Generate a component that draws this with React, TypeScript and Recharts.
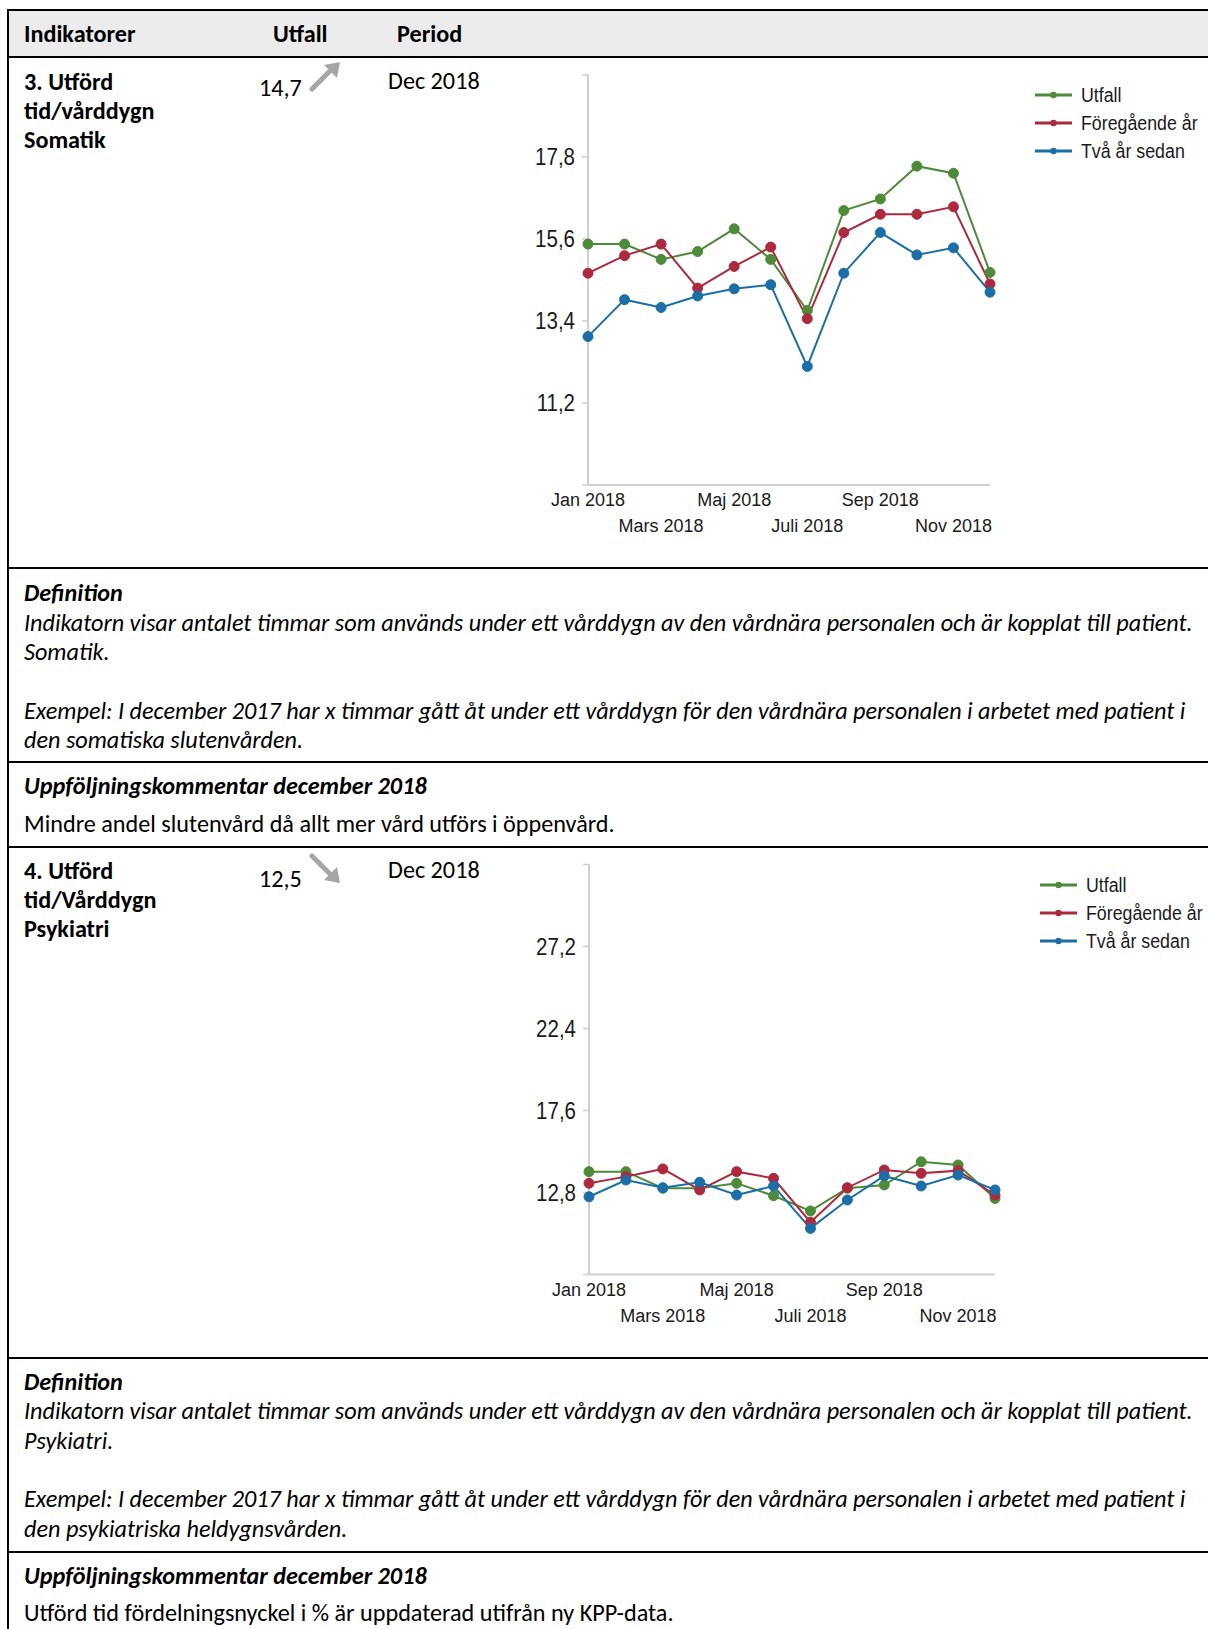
import React from 'react';
import { LineChart, Line, XAxis, YAxis, Legend } from 'recharts';

const months = [
  'Jan 2018', 'Feb 2018', 'Mars 2018', 'Apr 2018', 'Maj 2018', 'Juni 2018',
  'Juli 2018', 'Aug 2018', 'Sep 2018', 'Okt 2018', 'Nov 2018', 'Dec 2018',
];

// Somatik
const somUtfall = [15.46, 15.46, 15.05, 15.26, 15.87, 15.05, 13.68, 16.36, 16.67, 17.55, 17.36, 14.7];
const somForegaende = [14.68, 15.15, 15.46, 14.28, 14.86, 15.38, 13.46, 15.77, 16.26, 16.26, 16.46, 14.39];
const somTvaAr = [12.98, 13.97, 13.76, 14.07, 14.26, 14.37, 12.18, 14.68, 15.77, 15.17, 15.36, 14.17];
const somTicks = [9, 11.2, 13.4, 15.6, 17.8, 20];

// Psykiatri
const psyUtfall = [14.02, 14.02, 13.05, 13.05, 13.34, 12.61, 11.72, 13.05, 13.24, 14.6, 14.41, 12.45];
const psyForegaende = [13.34, 13.73, 14.18, 12.95, 14.02, 13.63, 11.06, 13.08, 14.12, 13.92, 14.08, 12.65];
const psyTvaAr = [12.55, 13.53, 13.08, 13.4, 12.65, 13.18, 10.7, 12.36, 13.77, 13.18, 13.82, 12.95];
const psyTicks = [8, 12.8, 17.6, 22.4, 27.2, 32];

const seriesNames = ['Utfall', 'Föregående år', 'Två år sedan'];
const seriesColors = ['#4d8a3a', '#ad2a3e', '#1b6ea6'];

const TEXT_FONT = "Carlito, 'Open Sans', sans-serif";
const CHART_FONT = "'Liberation Sans', Arial, sans-serif";

function MonthTick(props: any) {
  const { x, y, payload } = props;
  const idx = months.indexOf(payload.value);
  const secondRow = (idx / 2) % 2 === 1;
  return (
    <text
      x={x}
      y={y + (secondRow ? 47 : 21)}
      textAnchor="middle"
      fontFamily={CHART_FONT}
      fontSize={18}
      fill="#1a1a1a"
    >
      {payload.value}
    </text>
  );
}

// value labels look slightly stretched in the original, hence the scaleY
function makeValueTick(ticks: number[]) {
  return function ValueTick(props: any) {
    const { x, y, payload } = props;
    if (payload.value === ticks[0] || payload.value === ticks[ticks.length - 1]) return <g />;
    return (
      <text
        transform={`translate(${x},${y}) scale(1,1.15)`}
        x={0}
        y={0}
        dy="0.36em"
        textAnchor="end"
        fontFamily={CHART_FONT}
        fontSize={20.5}
        fill="#1a1a1a"
      >
        {Number(payload.value).toFixed(1).replace('.', ',')}
      </text>
    );
  };
}

function LegendBox() {
  return (
    <div>
      {seriesNames.map((name, i) => (
        <div key={name} style={{ display: 'flex', alignItems: 'center', height: 28, whiteSpace: 'nowrap' }}>
          <svg width={46} height={10}>
            <line x1={0} y1={5} x2={37} y2={5} stroke={seriesColors[i]} strokeWidth={3} />
            <circle cx={18.5} cy={5} r={3.2} fill={seriesColors[i]} />
          </svg>
          <span
            style={{
              display: 'inline-block',
              fontFamily: CHART_FONT,
              fontSize: 17.8,
              color: '#1a1a1a',
              transform: 'scaleY(1.18)',
            }}
          >
            {name}
          </span>
        </div>
      ))}
    </div>
  );
}

type ChartProps = {
  top: number;
  utfall: number[];
  foregaende: number[];
  tvaAr: number[];
  ticks: number[];
  marginTop: number;
  axisWidth: number;
  marginRight: number;
  marginBottom: number;
  legendLeft: number;
};

function IndicatorChart(p: ChartProps) {
  const data = months.map((m, i) => ({
    month: m,
    utfall: p.utfall[i],
    foregaende: p.foregaende[i],
    tvaAr: p.tvaAr[i],
  }));
  const keys = ['utfall', 'foregaende', 'tvaAr'];
  return (
    <div style={{ position: 'absolute', left: 520, top: p.top }}>
      <LineChart
        width={688}
        height={480}
        data={data}
        margin={{ top: p.marginTop, right: p.marginRight, left: 0, bottom: p.marginBottom }}
      >
        <XAxis
          dataKey="month"
          interval={1}
          height={50}
          tickLine={false}
          tickSize={0}
          tickMargin={0}
          axisLine={{ stroke: '#cfcfcf', strokeWidth: 2 }}
          tick={<MonthTick />}
        />
        <YAxis
          type="number"
          domain={[p.ticks[0], p.ticks[p.ticks.length - 1]]}
          ticks={p.ticks}
          interval={0}
          width={p.axisWidth}
          tickSize={6}
          tickMargin={7}
          axisLine={{ stroke: '#cfcfcf', strokeWidth: 2 }}
          tickLine={{ stroke: '#cfcfcf', strokeWidth: 1.5 }}
          tick={makeValueTick(p.ticks)}
        />
        <Legend
          layout="vertical"
          align="center"
          verticalAlign="middle"
          content={() => <LegendBox />}
          wrapperStyle={{ position: 'absolute', left: p.legendLeft, top: 21, width: 200 }}
        />
        {keys.map((k, i) => (
          <Line
            key={k}
            dataKey={k}
            name={seriesNames[i]}
            type="linear"
            stroke={seriesColors[i]}
            strokeWidth={2}
            dot={{ r: 5, fill: seriesColors[i], stroke: seriesColors[i], strokeWidth: 1 }}
            isAnimationActive={false}
          />
        ))}
      </LineChart>
    </div>
  );
}

function Arrow({ left, top, down }: { left: number; top: number; down?: boolean }) {
  return (
    <svg
      width={32}
      height={30}
      style={{ position: 'absolute', left, top, transform: down ? 'scaleY(-1)' : undefined }}
    >
      <line x1={3} y1={27} x2={22} y2={8} stroke="#a5a5a5" strokeWidth={5} strokeLinecap="round" />
      <polygon points="31,0 15,3 28,16" fill="#a5a5a5" />
    </svg>
  );
}

function HLine({ y }: { y: number }) {
  return <div style={{ position: 'absolute', left: 7, top: y - 1, width: 1201, height: 2, background: '#000' }} />;
}

function TextLines({
  x, y, lines, bold, italic, lh = 29.4,
}: { x: number; y: number; lines: string[]; bold?: boolean; italic?: boolean; lh?: number }) {
  return (
    <div
      style={{
        position: 'absolute',
        left: x,
        top: y - lh / 2,
        lineHeight: `${lh}px`,
        fontFamily: TEXT_FONT,
        fontSize: 24.2,
        fontWeight: bold ? 700 : 400,
        fontStyle: italic ? 'italic' : 'normal',
        whiteSpace: 'nowrap',
        color: '#000',
      }}
    >
      {lines.map((l, i) => (
        <div key={i} style={{ height: lh }}>{l}</div>
      ))}
    </div>
  );
}

export default function App() {
  return (
    <div style={{ position: 'absolute', left: 0, top: 0, width: 1208, height: 1629, overflow: 'hidden', background: '#fff' }}>
      <div style={{ position: 'absolute', left: 8, top: 10, width: 1200, height: 47, background: '#ececec' }} />
      <div style={{ position: 'absolute', left: 7, top: 9, width: 2, height: 1620, background: '#000' }} />
      {[10, 57, 568, 762, 846.5, 1357.6, 1552].map((y) => <HLine key={y} y={y} />)}

      <TextLines x={24} y={34} lines={['Indikatorer']} bold />
      <TextLines x={273} y={34} lines={['Utfall']} bold />
      <TextLines x={397} y={34} lines={['Period']} bold />

      <TextLines x={24} y={81} lines={['3. Utförd', 'tid/vårddygn', 'Somatik']} bold lh={29} />
      <TextLines x={259} y={88} lines={['14,7']} />
      <Arrow left={309} top={62} />
      <TextLines x={388} y={81} lines={['Dec 2018']} />

      <IndicatorChart
        top={60}
        utfall={somUtfall}
        foregaende={somForegaende}
        tvaAr={somTvaAr}
        ticks={somTicks}
        marginTop={14.8}
        axisWidth={68}
        marginRight={218}
        marginBottom={5}
        legendLeft={515}
      />

      <TextLines x={24} y={593} lines={['Definition']} bold italic />
      <TextLines
        x={24}
        y={622.4}
        italic
        lines={[
          'Indikatorn visar antalet timmar som används under ett vårddygn av den vårdnära personalen och är kopplat till patient.',
          'Somatik.',
          '',
          'Exempel: I december 2017 har x timmar gått åt under ett vårddygn för den vårdnära personalen i arbetet med patient i',
          'den somatiska slutenvården.',
        ]}
      />
      <TextLines x={24} y={786} lines={['Uppföljningskommentar december 2018']} bold italic />
      <TextLines x={24} y={824} lines={['Mindre andel slutenvård då allt mer vård utförs i öppenvård.']} />

      <TextLines x={24} y={870} lines={['4. Utförd', 'tid/Vårddygn', 'Psykiatri']} bold lh={29} />
      <TextLines x={259} y={879} lines={['12,5']} />
      <Arrow left={309} top={853} down />
      <TextLines x={388} y={870} lines={['Dec 2018']} />

      <IndicatorChart
        top={850}
        utfall={psyUtfall}
        foregaende={psyForegaende}
        tvaAr={psyTvaAr}
        ticks={psyTicks}
        marginTop={14.5}
        axisWidth={69}
        marginRight={213}
        marginBottom={5.5}
        legendLeft={520}
      />

      <TextLines x={24} y={1381.5} lines={['Definition']} bold italic />
      <TextLines
        x={24}
        y={1411}
        italic
        lines={[
          'Indikatorn visar antalet timmar som används under ett vårddygn av den vårdnära personalen och är kopplat till patient.',
          'Psykiatri.',
          '',
          'Exempel: I december 2017 har x timmar gått åt under ett vårddygn för den vårdnära personalen i arbetet med patient i',
          'den psykiatriska heldygnsvården.',
        ]}
      />
      <TextLines x={24} y={1576} lines={['Uppföljningskommentar december 2018']} bold italic />
      <TextLines x={24} y={1613} lines={['Utförd tid fördelningsnyckel i % är uppdaterad utifrån ny KPP-data.']} />
    </div>
  );
}
